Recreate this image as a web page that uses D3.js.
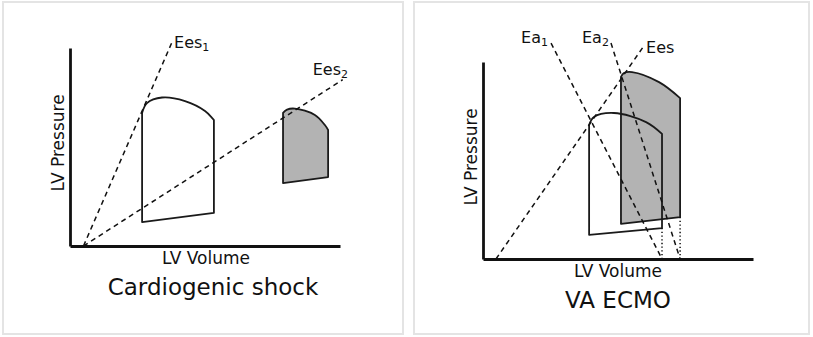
<!DOCTYPE html>
<html>
<head>
<meta charset="utf-8">
<script src="https://cdn.jsdelivr.net/npm/d3@7"></script>
<style>
  html, body { margin: 0; padding: 0; background: #fff; }
  svg { display: block; }
  text { font-family: "DejaVu Sans", Verdana, sans-serif; fill: #111; }
</style>
</head>
<body>
<svg id="chart" width="813" height="337"></svg>
<script>
// Pressure–volume loops, values in arbitrary units (volume 0–100, pressure 0–100)

// --- Cardiogenic shock panel ---
const shockEes1 = [[5, 0], [37.8, 103]];
const shockEes2 = [[5, 0], [101, 84]];
// each loop: straight bottom edge (filling) plus the rounded ejection arc on top
const shockLoopA_bottom = [[53.3, 16.7], [26.7, 12.1]];
const shockLoopA_arc = [[26.7, 67.2], [28.5, 72.2], [34.1, 75.0], [42.6, 73.2], [50.0, 68.2], [53.3, 63.6]];
const shockLoopB_bottom = [[95.6, 34.8], [78.9, 31.8]];
const shockLoopB_arc = [[78.9, 67.2], [80.4, 68.9], [83.3, 69.4], [90.7, 66.2], [94.4, 61.1], [95.6, 58.6]];

// --- VA ECMO panel ---
const ecmoEes = [[4.8, 0], [59.3, 107.6]];
const ecmoEa1 = [[25.2, 109.6], [66.3, 0]];
const ecmoEa2 = [[47.4, 109.6], [73.0, 0]];
const ecmoLoopA_bottom = [[66.3, 15.7], [39.3, 12.2]];
const ecmoLoopA_arc = [[39.3, 68.0], [41.1, 72.1], [48.5, 74.1], [60.4, 69.5], [66.3, 63.5]];
const ecmoLoopB_bottom = [[73.0, 21.3], [51.1, 17.8]];
const ecmoLoopB_arc = [[51.1, 92.4], [52.2, 94.4], [55.2, 94.9], [65.2, 89.8], [73.0, 81.7]];
const ecmoEdv = [[66.3, 15.7], [73.0, 21.3]];

const axisTitles = { x: "LV Volume", y: "LV Pressure" };
const panelTitles = ["Cardiogenic shock", "VA ECMO"];

const svg = d3.select("#chart");

function panel(opts) {
  const g = svg.append("g");
  g.append("rect")
    .attr("x", opts.frame[0]).attr("y", opts.frame[1])
    .attr("width", opts.frame[2]).attr("height", opts.frame[3])
    .attr("fill", "#fff").attr("stroke", "#e4e4e4").attr("stroke-width", 2);

  const x = d3.scaleLinear().domain([0, 100]).range(opts.xRange);
  const y = d3.scaleLinear().domain([0, 100]).range(opts.yRange);
  const straight = d3.line().x(d => x(d[0])).y(d => y(d[1]));
  const smooth = d3.line().x(d => x(d[0])).y(d => y(d[1])).curve(d3.curveCatmullRom.alpha(0.5));

  const loopPath = (bottom, arc) =>
    straight(bottom) + smooth(arc).replace(/^M/, "L") + "Z";

  return { g, x, y, straight, loopPath };
}

function drawAxes(p, xTitlePos, yTitlePos, title, titlePos) {
  const xa = p.g.append("g").attr("transform", `translate(0,${p.y(0)})`)
    .call(d3.axisBottom(p.x).tickValues([]).tickSizeOuter(0));
  const ya = p.g.append("g").attr("transform", `translate(${p.x(0)},0)`)
    .call(d3.axisLeft(p.y).tickValues([]).tickSizeOuter(0));
  [xa, ya].forEach(a => a.select(".domain").attr("stroke", "#111").attr("stroke-width", 2.8));

  p.g.append("text").attr("x", xTitlePos[0]).attr("y", xTitlePos[1])
    .attr("text-anchor", "middle").attr("font-size", 17).text(axisTitles.x);
  p.g.append("text")
    .attr("transform", `translate(${yTitlePos[0]},${yTitlePos[1]}) rotate(-90)`)
    .attr("text-anchor", "middle").attr("font-size", 17).text(axisTitles.y);
  p.g.append("text").attr("x", titlePos[0]).attr("y", titlePos[1])
    .attr("text-anchor", "middle").attr("font-size", 23).text(title);
}

function dashed(p, pts, dash) {
  p.g.append("path").attr("d", p.straight(pts))
    .attr("fill", "none").attr("stroke", "#111")
    .attr("stroke-width", 1.5).attr("stroke-dasharray", dash || "5,4");
}

function loop(p, bottom, arc, fill) {
  p.g.append("path").attr("d", p.loopPath(bottom, arc))
    .attr("fill", fill).attr("stroke", "#1a1a1a")
    .attr("stroke-width", 1.8).attr("stroke-linejoin", "round");
}

function label(p, px, py, main, sub) {
  const t = p.g.append("text").attr("x", px).attr("y", py).attr("font-size", 16);
  t.append("tspan").text(main);
  if (sub) t.append("tspan").attr("font-size", 11).attr("dy", 3).text(sub);
}

// Cardiogenic shock
const p1 = panel({ frame: [3, 2, 400, 332], xRange: [70, 340], yRange: [246, 48] });
drawAxes(p1, [206, 264], [64, 143], panelTitles[0], [213, 295]);
loop(p1, shockLoopA_bottom, shockLoopA_arc, "none");
loop(p1, shockLoopB_bottom, shockLoopB_arc, "#b3b3b3");
dashed(p1, shockEes1);
dashed(p1, shockEes2);
{
  const e1 = shockEes1[1], e2 = shockEes2[1];
  label(p1, p1.x(e1[0]) + 2, p1.y(e1[1]) + 6, "Ees", "1");
  label(p1, p1.x(e2[0]) - 30, p1.y(e2[1]) - 5, "Ees", "2");
}

// VA ECMO
const p2 = panel({ frame: [414, 2, 395, 332], xRange: [483, 753], yRange: [259, 62] });
drawAxes(p2, [618, 277], [477, 157], panelTitles[1], [618, 308]);
loop(p2, ecmoLoopB_bottom, ecmoLoopB_arc, "#b3b3b3");
loop(p2, ecmoLoopA_bottom, ecmoLoopA_arc, "none");
dashed(p2, ecmoEes);
dashed(p2, ecmoEa1);
dashed(p2, ecmoEa2);
ecmoEdv.forEach(d => dashed(p2, [d, [d[0], 0]], "1.3,2.4"));
{
  const a1 = ecmoEa1[0], a2 = ecmoEa2[0], es = ecmoEes[1];
  label(p2, p2.x(a1[0]) - 30, p2.y(a1[1]) + 0, "Ea", "1");
  label(p2, p2.x(a2[0]) - 29, p2.y(a2[1]) + 0, "Ea", "2");
  label(p2, p2.x(es[0]) + 3, p2.y(es[1]) + 6, "Ees");
}
</script>
</body>
</html>
